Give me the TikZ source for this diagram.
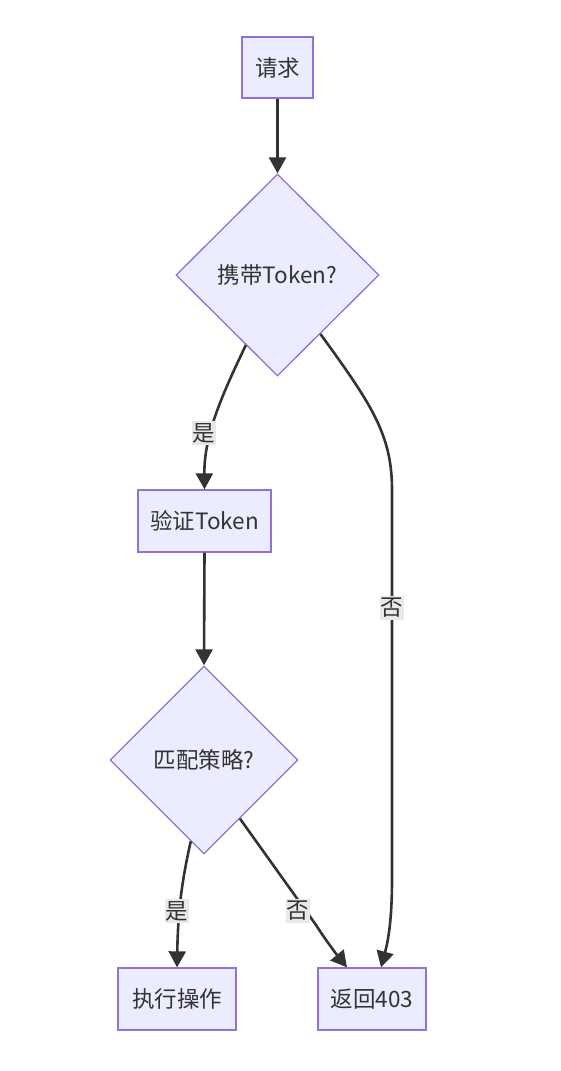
\documentclass[tikz,border=0pt]{standalone}
\usepackage{fontspec}
\setmainfont{Noto Sans CJK SC}
\usetikzlibrary{shapes.geometric,arrows.meta,calc}
\definecolor{nodefill}{HTML}{ECECFF}
\definecolor{nodeborder}{HTML}{9370DB}
\definecolor{edgecol}{HTML}{333333}
\definecolor{lblbg}{HTML}{E8E8E8}
\tikzset{
  x=1pt,y=1pt,
  every node/.style={font=\fontsize{22.5}{26}\selectfont, text=edgecol},
  box/.style={draw=nodeborder, fill=nodefill, line width=1.3pt, rectangle, minimum height=62pt, inner sep=0pt},
  decision/.style={draw=nodeborder, fill=nodefill, line width=1.3pt, diamond, inner sep=0pt},
  edge/.style={draw=edgecol, line width=2.6pt, -{Triangle[length=16pt,width=17pt]}},
  lbl/.style={fill=lblbg, inner xsep=1pt, inner ysep=2pt}
}
\begin{document}
\begin{tikzpicture}
\useasboundingbox (0,0) rectangle (561,-1071);
\node[box, minimum width=71pt, minimum height=61pt] (req) at (277.5,-67.5) {请求};
\node[decision, minimum width=203pt, minimum height=202pt] (tok) at (277.5,-275) {携带Token?};
\node[box, minimum width=133pt] (ver) at (204.5,-521) {验证Token};
\node[decision, minimum width=188pt, minimum height=188pt] (pol) at (204,-760) {匹配策略?};
\node[box, minimum width=118pt] (exe) at (177,-999) {执行操作};
\node[box, minimum width=108pt] (ret) at (372,-999) {返回403};

\draw[edge] (req.south) -- (tok.north);
\draw[edge] ($(tok.south)!0.31!(tok.west)$) .. controls (222,-395) and (204,-435) .. (ver.north);
\draw[edge] (ver.south) -- (pol.north);
\draw[edge] ($(tok.south)!0.42!(tok.east)$) .. controls (372,-405) and (392,-435) .. (392,-490)
  -- (392,-880) .. controls (392,-925) and (387,-945) .. ([xshift=9pt]ret.north);
\draw[edge] ($(pol.south)!0.14!(pol.west)$) .. controls (182,-880) and (178,-910) .. (exe.north);
\draw[edge] ($(pol.south)!0.38!(pol.east)$) -- (316,-925) .. controls (327,-942) and (337,-955) .. ([xshift=-25pt]ret.north);

\node[lbl] (l1) at (204,-433) {是};
\node[lbl] (l2) at (392,-608) {否};
\node[lbl] (l3) at (177,-911) {是};
\node[lbl] (l4) at (298,-911) {否};
\end{tikzpicture}
\end{document}
